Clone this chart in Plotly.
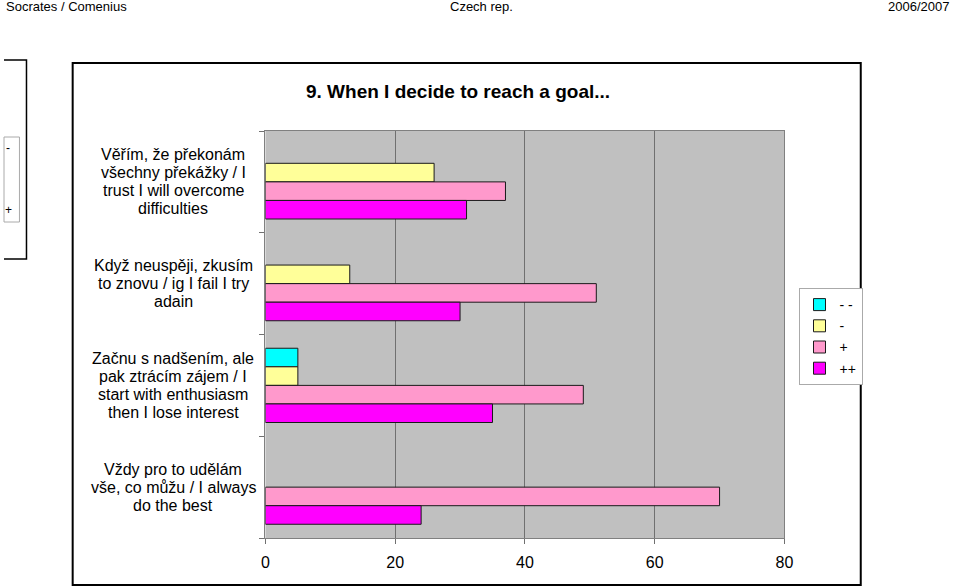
import plotly.graph_objects as go

categories = [
    ["Věřím, že překonám", "všechny překážky / I", "trust I will overcome", "difficulties"],
    ["Když neuspěji, zkusím", "to znovu / ig I fail I try", "adain"],
    ["Začnu s nadšením, ale", "pak ztrácím zájem / I", "start with enthusiasm", "then I lose interest"],
    ["Vždy pro to udělám", "vše, co můžu / I always", "do the best"],
]
series_names = ["- -", "-", "+", "++"]
vals_mm = [None, None, 5, None]
vals_m = [26, 13, 5, None]
vals_p = [37, 51, 49, 70]
vals_pp = [31, 30, 35, 24]
series_values = [vals_mm, vals_m, vals_p, vals_pp]
colors = ["#00FFFF", "#FFFF99", "#FF99CC", "#FF00FF"]
x_ticks = [0, 20, 40, 60, 80]

W, H = 960, 588
# observed horizontal placement of the paper in the rendered page
X0, XW = 4.6, 943.3
def px(x):
    return (x - X0) / XW
def py(y):
    return 1 - y / H

fig = go.Figure()
ids = list(range(len(categories)))
for name, vals, col in zip(series_names, series_values, colors):
    fig.add_trace(go.Bar(
        y=ids, x=vals, name=name, orientation="h",
        marker=dict(color=col, line=dict(color="#1a1a1a", width=1)),
    ))

font_family = "Arial, Liberation Sans, sans-serif"
annotations = []
LINE = 18
for i, lines in enumerate(categories):
    n = len(lines)
    for k, ln in enumerate(lines):
        annotations.append(dict(
            x=px(173), y=i, xref="paper", yref="y", text=ln, showarrow=False,
            xanchor="center", yanchor="middle", align="center",
            yshift=((n - 1) / 2 - k) * LINE,
            font=dict(size=16, color="#000000", family=font_family),
        ))
# title
annotations.append(dict(x=px(457), y=py(91), xref="paper", yref="paper",
                        text="<b>9. When I decide to reach a goal...</b>", showarrow=False,
                        xanchor="center", yanchor="middle",
                        font=dict(size=19, color="#000000", family=font_family)))
# header
hdr_font = dict(size=13, color="#000000", family=font_family)
annotations.append(dict(x=0, y=py(7), xref="paper", yref="paper", text="Socrates / Comenius",
                        showarrow=False, xanchor="left", yanchor="middle", font=hdr_font))
annotations.append(dict(x=px(480), y=py(7), xref="paper", yref="paper", text="Czech rep.",
                        showarrow=False, xanchor="center", yanchor="middle", font=hdr_font))
annotations.append(dict(x=1, y=py(7), xref="paper", yref="paper", text="2006/2007",
                        showarrow=False, xanchor="right", yanchor="middle", font=hdr_font))
# small side box labels
small_font = dict(size=12, color="#000000", family=font_family)
annotations.append(dict(x=px(9), y=py(148), xref="paper", yref="paper", text="-",
                        showarrow=False, xanchor="center", yanchor="middle", font=small_font))
annotations.append(dict(x=px(9), y=py(210), xref="paper", yref="paper", text="+",
                        showarrow=False, xanchor="center", yanchor="middle", font=small_font))

shapes = [
    # chart frame
    dict(type="rect", xref="paper", yref="paper", x0=px(73), x1=px(858), y0=py(585), y1=py(63),
         line=dict(color="#000000", width=2), fillcolor="rgba(0,0,0,0)", layer="below"),
    # left bracket
    dict(type="path", xref="paper", yref="paper",
         path=f"M 0 {py(60)} L {px(27)} {py(60)} L {px(27)} {py(259)} L 0 {py(259)}",
         line=dict(color="#000000", width=1.5)),
    # small box
    dict(type="rect", xref="paper", yref="paper", x0=0, x1=px(20), y0=py(222), y1=py(137),
         line=dict(color="#AAAAAA", width=1)),
]

fig.update_layout(
    width=W, height=H,
    margin=dict(l=0, r=0, t=0, b=0),
    paper_bgcolor="#FFFFFF",
    plot_bgcolor="#C0C0C0",
    barmode="group", bargap=0.27, bargroupgap=0,
    showlegend=True,
    legend=dict(x=px(796), y=py(288), xanchor="left", yanchor="top",
                bgcolor="#FFFFFF", bordercolor="#AAAAAA", borderwidth=1,
                font=dict(size=14, color="#000000", family=font_family),
                itemwidth=30, tracegroupgap=0),
    xaxis=dict(domain=[px(265), px(782)], range=[0, 80], tickvals=x_ticks,
               showgrid=True, gridcolor="#707070", gridwidth=1,
               showline=True, linecolor="#808080", linewidth=1, mirror=True,
               ticks="outside", ticklen=5, tickcolor="#707070",
               ticklabelstandoff=5,
               tickfont=dict(size=16, color="#000000", family=font_family),
               zeroline=False, fixedrange=True),
    yaxis=dict(domain=[py(538), py(131)], type="linear", range=[3.5, -0.5],
               tickvals=[-0.5, 0.5, 1.5, 2.5, 3.5], showticklabels=False,
               ticks="outside", ticklen=5, tickcolor="#707070",
               showgrid=False, showline=True, linecolor="#808080", linewidth=1, mirror=True,
               zeroline=False, fixedrange=True),
    annotations=annotations,
    shapes=shapes,
)

fig.write_html("out.html")
